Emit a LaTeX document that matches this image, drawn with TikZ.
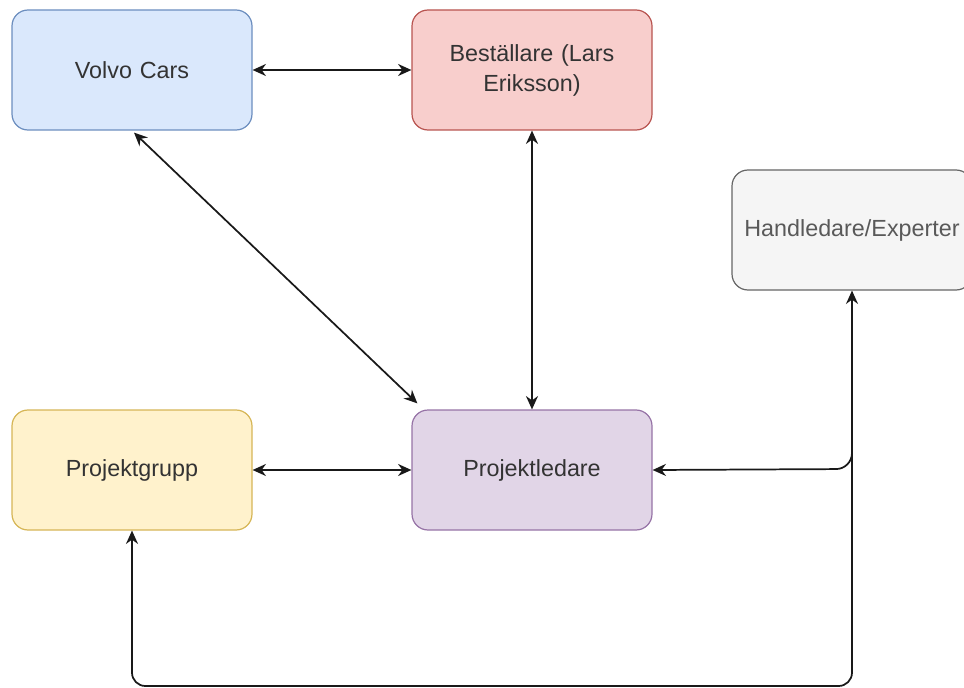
\documentclass[tikz,border=0pt]{standalone}
\usepackage{fontspec}
\setmainfont{Liberation Sans}
\usetikzlibrary{arrows.meta,calc}

\begin{document}
\begin{tikzpicture}[x=0.75pt, y=-0.75pt,
    box/.style={draw, rounded corners=12pt, line width=0.9pt, minimum width=180pt,
        minimum height=90pt, text width=168pt, align=center, font=\fontsize{17.5}{22.5}\selectfont, text=black!80},
    link/.style={line width=1.3pt, draw=black!90, {Stealth[length=10pt,width=9pt]}-{Stealth[length=10pt,width=9pt]}},
    oneway/.style={line width=1.3pt, draw=black!90, -{Stealth[length=10pt,width=9pt]}}]
    % Define colours
    \definecolor{fillBlue}{HTML}{DAE8FC}   \definecolor{lineBlue}{HTML}{6C8EBF}
    \definecolor{fillRed}{HTML}{F8CECC}    \definecolor{lineRed}{HTML}{B85450}
    \definecolor{fillGrey}{HTML}{F5F5F5}   \definecolor{lineGrey}{HTML}{666666}
    \definecolor{fillYellow}{HTML}{FFF2CC} \definecolor{lineYellow}{HTML}{D6B656}
    \definecolor{fillPurple}{HTML}{E1D5E7} \definecolor{linePurple}{HTML}{9673A6}

    % Fix picture size
    \useasboundingbox (0,0) rectangle (964,688);
    \begin{scope}
    \clip (0,0) rectangle (964,688);

    % Draw boxes
    \node[box, fill=fillBlue, draw=lineBlue] (vc) at (132,70) {Volvo Cars};
    \node[box, fill=fillRed, draw=lineRed] (be) at (532,70) {Beställare (Lars\\Eriksson)};
    \node[box, fill=fillGrey, draw=lineGrey, text=black!65] (hl) at (852,230) {Handledare/Experter};
    \node[box, fill=fillYellow, draw=lineYellow] (pg) at (132,470) {Projektgrupp};
    \node[box, fill=fillPurple, draw=linePurple] (pl) at (532,470) {Projektledare};

    % Draw connectors
    \draw[link] (vc) -- (be);
    \draw[link] (pg) -- (pl);
    \draw[link] (be) -- (pl);
    \draw[link] ($(vc.south)+(2,2)$) -- ($(pl.north west)+(6,-6)$);

    % Bottom loop and branch to Projektledare
    \coordinate (br) at (852,686);
    \coordinate (bl) at (132,686);
    \coordinate (jn) at (852,448);
    \draw[link, rounded corners=10] (hl.south) -- (br) -- (bl) -- (pg.south);
    \draw[oneway, rounded corners=12] (jn) -- (852,469) -- (pl.east);
    \end{scope}

\end{tikzpicture}
\end{document}
